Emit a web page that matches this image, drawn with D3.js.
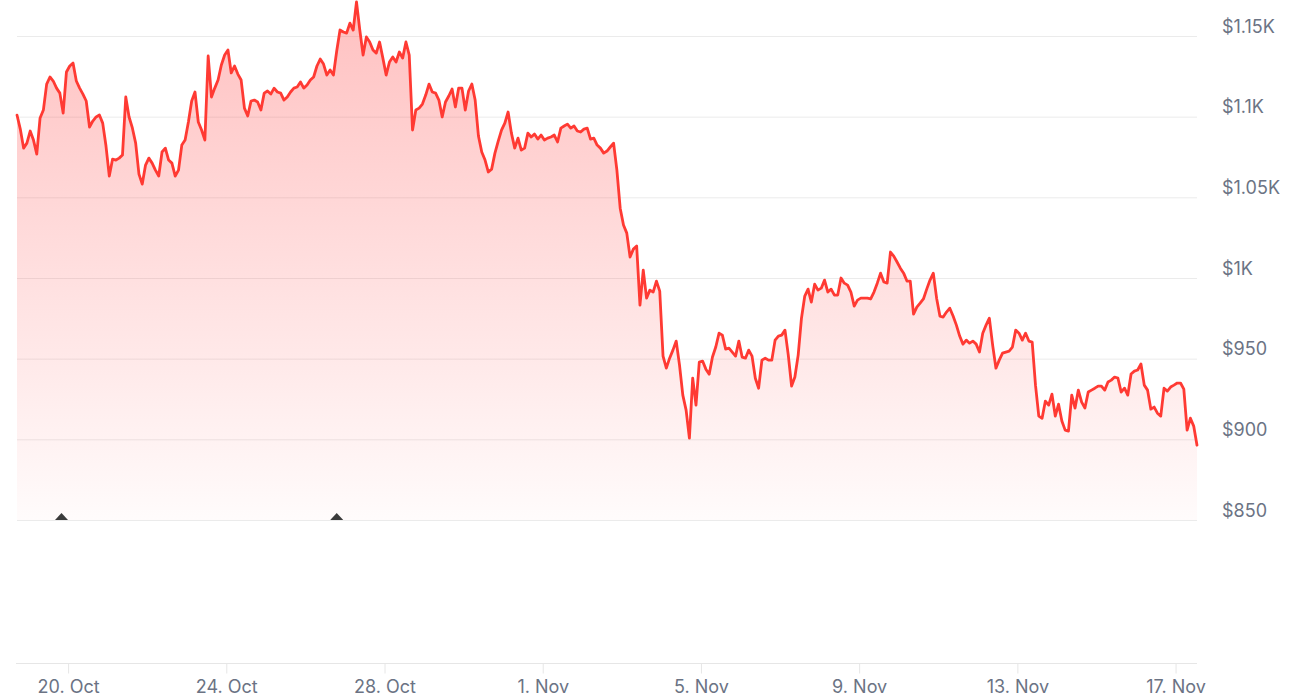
<!DOCTYPE html>
<html><head><meta charset="utf-8">
<script src="https://cdn.jsdelivr.net/npm/d3@7"></script>
<style>
html,body{margin:0;padding:0;background:#fff;}
svg{display:block;font-family:Inter,"Noto Sans",sans-serif;}
</style></head><body>
<svg id="chart" width="1300" height="700"></svg>
<script>
// ---- data ----
const startTime = "2024-10-18T17:00:00";
const stepHours = 2;
const prices = [
1101.0,1092.3,1080.5,1083.6,1091.1,1085.5,1076.8,1099.2,1104.1,1120.2,
1124.6,1122.1,1117.7,1114.6,1102.2,1127.7,1131.4,1133.2,1122.1,1117.7,
1114.0,1109.7,1093.6,1097.3,1099.8,1101.0,1096.0,1081.8,1063.2,1073.7,
1073.1,1074.3,1076.2,1112.2,1099.8,1093.0,1083.6,1064.4,1058.2,1070.0,
1074.3,1071.2,1066.9,1063.2,1078.1,1080.5,1073.1,1071.2,1063.2,1066.9,
1082.4,1085.5,1096.7,1109.7,1115.3,1096.7,1091.7,1085.5,1137.6,1112.2,
1117.7,1122.7,1132.0,1138.2,1141.3,1127.1,1131.4,1126.4,1122.7,1105.3,
1100.4,1109.7,1110.3,1109.1,1104.1,1114.6,1115.9,1114.0,1117.7,1115.3,
1114.6,1110.3,1112.2,1115.3,1117.7,1118.4,1121.5,1117.7,1119.6,1122.7,
1124.6,1131.4,1135.7,1132.6,1125.8,1128.9,1125.8,1140.7,1153.7,1152.5,
1151.8,1158.0,1153.7,1171.1,1153.7,1138.2,1149.4,1146.3,1141.3,1139.4,
1146.3,1136.3,1125.8,1133.9,1137.0,1133.9,1140.1,1136.3,1146.3,1138.2,
1091.7,1104.1,1105.3,1107.8,1113.4,1120.2,1115.3,1114.6,1110.3,1099.8,
1109.1,1112.8,1117.1,1106.0,1117.7,1117.7,1104.1,1115.9,1120.2,1110.3,
1088.0,1078.1,1073.1,1065.7,1067.5,1077.4,1084.9,1091.7,1096.0,1102.9,
1089.8,1080.5,1086.7,1079.3,1080.5,1089.8,1087.4,1089.2,1086.1,1088.6,
1085.5,1086.7,1087.4,1088.6,1084.3,1092.9,1094.2,1095.4,1092.9,1094.2,
1091.1,1090.5,1092.3,1092.9,1086.1,1086.7,1082.4,1080.5,1077.4,1078.7,
1081.2,1083.6,1066.9,1043.3,1032.8,1027.8,1013.0,1017.9,1019.8,983.2,
1004.9,987.5,992.5,991.3,998.1,991.9,951.6,944.1,950.3,955.3,
960.9,946.0,927.4,918.1,900.7,937.9,921.2,947.9,948.5,943.5,
940.4,951.0,957.2,965.8,964.6,955.9,956.5,954.1,951.6,960.9,
951.0,950.3,955.3,951.6,937.9,931.7,949.1,950.3,949.1,949.1,
961.5,964.0,964.6,967.7,952.2,933.0,938.6,952.2,975.1,988.8,
993.1,985.1,996.2,992.5,993.7,998.7,991.3,993.1,989.4,989.4,
1000.0,996.8,995.6,991.3,982.6,986.3,987.5,987.5,987.5,987.0,
991.3,996.8,1003.0,997.5,996.8,1016.1,1013.6,1009.9,1006.1,1003.0,
998.1,998.1,977.6,982.0,984.4,987.0,993.1,998.7,1003.0,987.5,
976.4,975.8,978.9,981.3,976.4,970.8,964.0,959.0,961.5,959.6,
960.9,959.0,954.1,965.8,970.8,975.1,958.4,944.1,949.1,953.4,
954.1,954.7,957.2,967.7,965.8,961.5,965.8,960.9,960.3,933.6,
914.4,913.1,923.7,921.2,928.0,914.4,921.8,911.3,905.7,905.1,
927.4,919.4,930.5,923.1,919.4,929.3,930.5,931.7,933.0,933.0,
930.5,935.5,936.7,938.6,938.0,929.3,931.7,927.4,940.5,942.3,
943.0,946.7,933.6,930.5,918.7,920.0,916.2,914.4,931.7,929.9,
932.4,933.6,934.9,934.9,931.1,905.7,913.1,908.2,896.4
];
const yTickValues = [850, 900, 950, 1000, 1050, 1100, 1150];
const yTickLabels = ["$850", "$900", "$950", "$1K", "$1.05K", "$1.1K", "$1.15K"];
const xTickDates = ["2024-10-20T00:00:00","2024-10-24T00:00:00","2024-10-28T00:00:00","2024-11-01T00:00:00",
                    "2024-11-05T00:00:00","2024-11-09T00:00:00","2024-11-13T00:00:00","2024-11-17T00:00:00"];
const xTickLabels = ["20. Oct", "24. Oct", "28. Oct", "1. Nov", "5. Nov", "9. Nov", "13. Nov", "17. Nov"];
const eventDates = ["2024-10-19T20:00:00", "2024-10-26T19:00:00"];

// ---- build ----
const t0 = new Date(startTime);
const series = prices.map((v, i) => ({ date: d3.timeHour.offset(t0, i * stepHours), v }));
const svg = d3.select("#chart");
const plotLeft = 17, plotRight = 1197, plotTop = 36, priceBottom = 520, axisY = 663.5;

const x = d3.scaleTime().domain(d3.extent(series, d => d.date)).range([plotLeft, plotRight]);
const y = d3.scaleLinear().domain([850, 1150]).range([priceBottom, plotTop]);

const defs = svg.append("defs");
const grad = defs.append("linearGradient").attr("id", "fillGrad")
  .attr("gradientUnits", "userSpaceOnUse").attr("x1", 0).attr("x2", 0)
  .attr("y1", 0).attr("y2", y(850));
grad.append("stop").attr("offset", 0).attr("stop-color", "rgb(255,70,70)").attr("stop-opacity", 0.34);
grad.append("stop").attr("offset", 1).attr("stop-color", "rgb(255,70,70)").attr("stop-opacity", 0.02);

// gridlines
const grid = d3.axisLeft(y).tickValues(yTickValues).tickSize(-(plotRight - plotLeft)).tickFormat("");
svg.append("g").attr("transform", `translate(${plotLeft},0)`).call(grid)
  .call(g => g.select(".domain").remove())
  .call(g => g.selectAll("line").attr("stroke", "#ebebeb").attr("stroke-width", 1));

// area + line
svg.append("path").datum(series)
  .attr("fill", "url(#fillGrad)")
  .attr("d", d3.area().x(d => x(d.date)).y0(y(850)).y1(d => y(d.v)));
svg.append("path").datum(series)
  .attr("fill", "none").attr("stroke", "#ff3a33").attr("stroke-width", 2.8)
  .attr("stroke-linejoin", "round").attr("stroke-linecap", "round")
  .attr("d", d3.line().x(d => x(d.date)).y(d => y(d.v)));

// event markers
svg.append("g").selectAll("path").data(eventDates).join("path")
  .attr("transform", d => `translate(${x(new Date(d))},${y(850)})`)
  .attr("d", "M-6.5,0L0,-7L6.5,0Z").attr("fill", "#3b3b3b");

// right y labels
const yAxis = d3.axisRight(y).tickValues(yTickValues).tickSize(0).tickPadding(0)
  .tickFormat(d => yTickLabels[yTickValues.indexOf(d)]);
svg.append("g").attr("transform", "translate(1222,0)").call(yAxis)
  .call(g => g.select(".domain").remove())
  .call(g => g.selectAll("text").attr("y", -10).attr("dy", "0.35em")
    .attr("fill", "#6b7384").attr("font-size", 18).attr("font-family", "Inter,'Noto Sans',sans-serif"));

// bottom axis
const xDates = xTickDates.map(s => new Date(s));
const xAxis = d3.axisBottom(x).tickValues(xDates).tickSize(10).tickPadding(8)
  .tickFormat((d, i) => xTickLabels[i]);
svg.append("g").attr("transform", `translate(0,${axisY})`).call(xAxis)
  .call(g => g.select(".domain").attr("d", `M${plotLeft - 1},0H${plotRight}`).attr("stroke", "#e6e6e6"))
  .call(g => g.selectAll(".tick line").attr("stroke", "#e6e6e6"))
  .call(g => g.selectAll("text").attr("fill", "#6b7384").attr("font-size", 18)
    .attr("font-family", "Inter,'Noto Sans',sans-serif").attr("dy", "0.62em"));
</script>
</body></html>
